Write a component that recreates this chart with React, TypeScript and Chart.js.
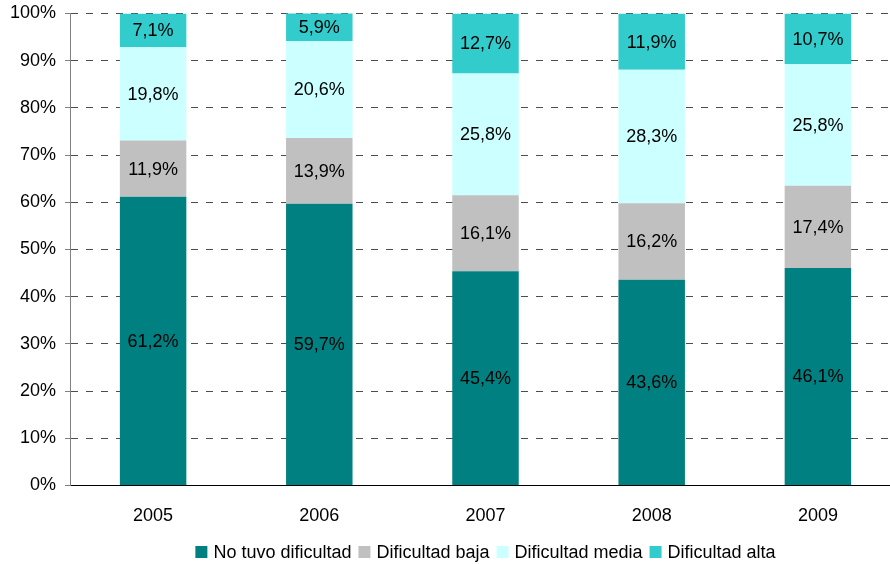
import React, { useEffect, useRef } from "react";
import { Chart, registerables } from "chart.js";

Chart.register(...registerables);

const years = ["2005", "2006", "2007", "2008", "2009"];
const noTuvoDificultad = [61.2, 59.7, 45.4, 43.6, 46.1];
const dificultadBaja = [11.9, 13.9, 16.1, 16.2, 17.4];
const dificultadMedia = [19.8, 20.6, 25.8, 28.3, 25.8];
const dificultadAlta = [7.1, 5.9, 12.7, 11.9, 10.7];
const seriesNames = ["No tuvo dificultad", "Dificultad baja", "Dificultad media", "Dificultad alta"];
const seriesColors = ["#008080", "#C0C0C0", "#CCFFFF", "#33CCCC"];
const yTicks = [0, 10, 20, 30, 40, 50, 60, 70, 80, 90, 100];

const FONT = "'Liberation Sans', Arial, sans-serif";
const FS = 18;

const fmt = (v: number) => v.toFixed(1).replace(".", ",") + "%";

const labelPlugin = {
  id: "segLabels",
  afterDatasetsDraw(chart: any) {
    const ctx = chart.ctx;
    ctx.save();
    ctx.font = `${FS}px ${FONT}`;
    ctx.fillStyle = "#000";
    ctx.textAlign = "center";
    ctx.textBaseline = "middle";
    chart.data.datasets.forEach((ds: any, di: number) => {
      const meta = chart.getDatasetMeta(di);
      meta.data.forEach((el: any, i: number) => {
        const top = Math.max(el.y, chart.chartArea.top);
        const y = (top + el.base) / 2;
        ctx.fillText(fmt(ds.data[i]), el.x, y + 1);
      });
    });
    ctx.restore();
  },
};

const legendPlugin = {
  id: "customLegend",
  afterDraw(chart: any) {
    const ctx = chart.ctx;
    ctx.save();
    ctx.font = `${FS}px ${FONT}`;
    const box = 12;
    const gapBT = 6;
    const gapItem = 7;
    const widths = seriesNames.map((n) => ctx.measureText(n).width);
    const total =
      widths.reduce((a, b) => a + b, 0) + seriesNames.length * (box + gapBT) + (seriesNames.length - 1) * gapItem;
    const cx = (chart.chartArea.left + chart.chartArea.right) / 2;
    let x = cx - total / 2;
    const yc = 552;
    ctx.textBaseline = "middle";
    ctx.textAlign = "left";
    seriesNames.forEach((n, i) => {
      ctx.fillStyle = seriesColors[i];
      ctx.fillRect(x, yc - box / 2, box, box);
      x += box + gapBT;
      ctx.fillStyle = "#000";
      ctx.fillText(n, x, yc + 1);
      x += widths[i] + gapItem;
    });
    ctx.restore();
  },
};

export default function App() {
  const ref = useRef<HTMLCanvasElement | null>(null);
  useEffect(() => {
    if (!ref.current) return;
    const seriesData = [noTuvoDificultad, dificultadBaja, dificultadMedia, dificultadAlta];
    const chart = new Chart(ref.current, {
      type: "bar",
      data: {
        labels: years,
        datasets: seriesNames.map((name, i) => ({
          label: name,
          data: seriesData[i],
          backgroundColor: seriesColors[i],
          borderWidth: 0,
          barPercentage: 0.4,
          categoryPercentage: 1,
        })),
      },
      options: {
        responsive: false,
        animation: false,
        devicePixelRatio: 1,
        layout: { padding: { top: 13.5, right: 3, left: 0, bottom: 0 } },
        plugins: { legend: { display: false }, tooltip: { enabled: false } },
        scales: {
          x: {
            stacked: true,
            grid: { display: true, drawOnChartArea: false, drawTicks: false, color: "transparent" },
            border: { display: true, color: "#000", width: 1 },
            ticks: { color: "#000", font: { family: FONT, size: FS }, padding: 20 },
            afterFit(axis: any) {
              axis.height = 78.5;
              axis.paddingLeft = 0;
              axis.paddingRight = 0;
            },
          },
          y: {
            stacked: true,
            min: 0,
            max: 100,
            afterBuildTicks(axis: any) {
              axis.ticks = yTicks.map((v) => ({ value: v }));
            },
            grid: {
              color: (c: any) => (c.tick && c.tick.value === 0 ? "transparent" : "#4d4d4d"),
              tickColor: "#808080",
              tickLength: 5,
              tickBorderDash: [],
              lineWidth: 1,
            },
            border: { display: true, color: "#808080", width: 1, dash: [7, 8] },
            ticks: {
              color: "#000",
              font: { family: FONT, size: FS },
              padding: 9,
              callback: (v: any) => v + "%",
            },
            afterFit(axis: any) {
              axis.width = 70;
              axis.paddingTop = 0;
              axis.paddingBottom = 0;
            },
          },
        },
      },
      plugins: [labelPlugin, legendPlugin],
    });
    return () => chart.destroy();
  }, []);
  return (
    <div
      style={{
        position: "fixed",
        left: 0,
        top: 0,
        width: 890,
        height: 564,
        overflow: "hidden",
        background: "#fff",
      }}
    >
      <canvas ref={ref} width={904} height={564} style={{ width: 904, height: 564, display: "block" }} />
    </div>
  );
}
